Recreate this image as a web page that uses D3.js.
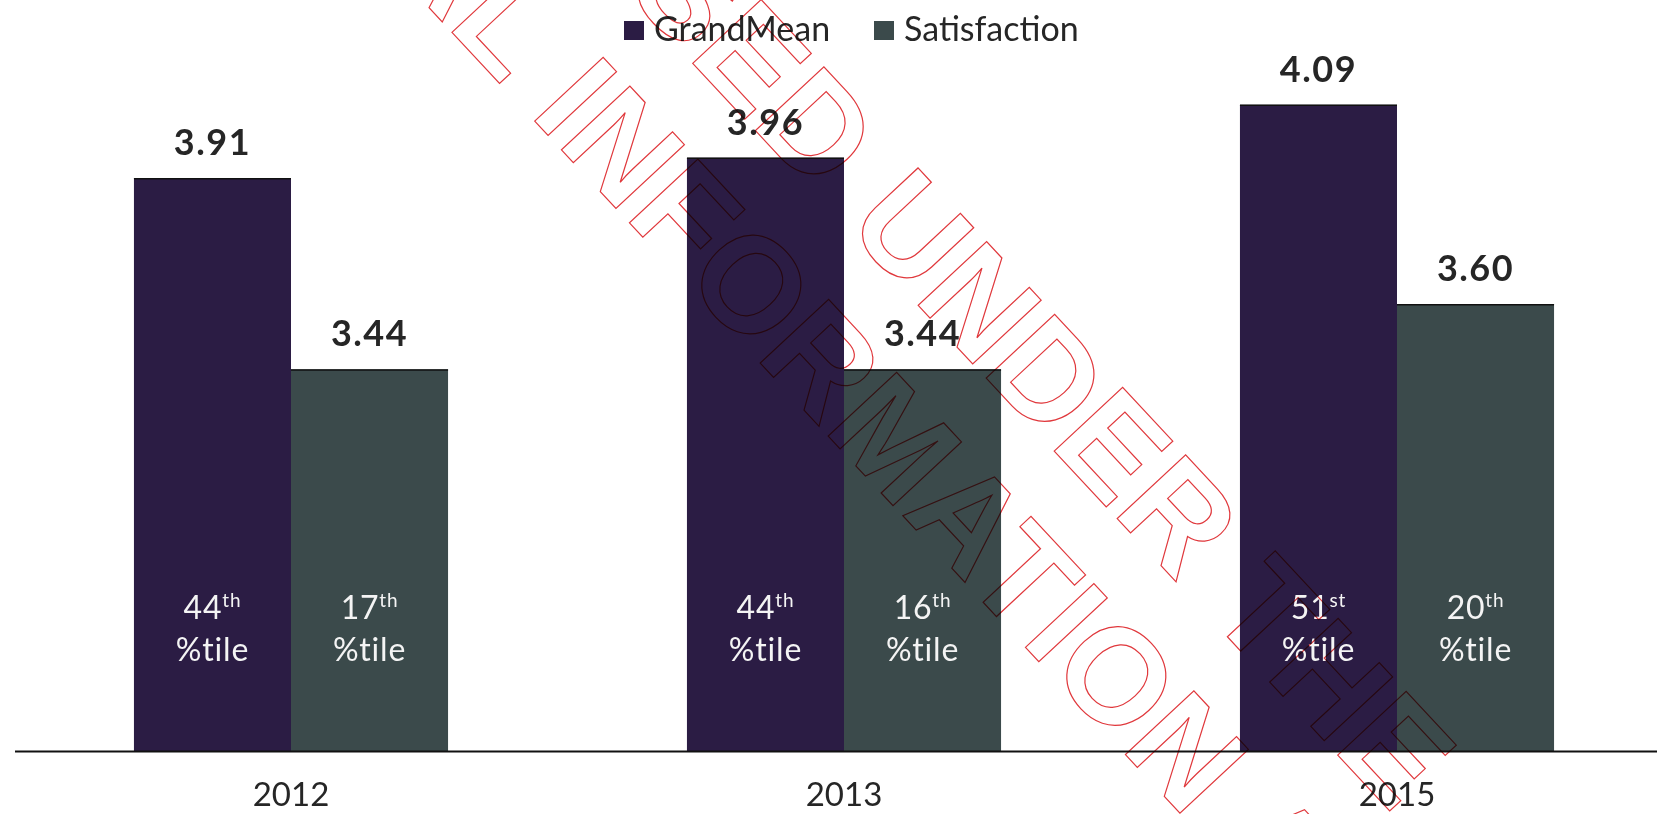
<!DOCTYPE html>
<html>
<head>
<meta charset="utf-8">
<script src="https://cdn.jsdelivr.net/npm/d3@7/dist/d3.min.js"></script>
<style>
  html, body { margin: 0; padding: 0; background: #ffffff; }
  svg { display: block; }
</style>
</head>
<body>
<svg id="chart" width="1657" height="814"></svg>
<script>
// Survey results by year
const years = ["2012", "2013", "2015"];
const seriesNames = ["GrandMean", "Satisfaction"];
const grandMean = [3.91, 3.96, 4.09];
const satisfaction = [3.44, 3.44, 3.60];
const grandMeanRank = ["44", "44", "51"];
const grandMeanSuffix = ["th", "th", "st"];
const satisfactionRank = ["17", "16", "20"];
const satisfactionSuffix = ["th", "th", "th"];
const seriesColors = ["#2b1c44", "#3b4a4b"];

const stampLines = ["RELEASED UNDER THE", "OFFICIAL INFORMATION ACT"];

const baseY = 752;
const svg = d3.select("#chart");

const rows = years.map((yr, i) => ({
  year: yr,
  bars: [
    { key: seriesNames[0], value: grandMean[i], rank: grandMeanRank[i], suffix: grandMeanSuffix[i] },
    { key: seriesNames[1], value: satisfaction[i], rank: satisfactionRank[i], suffix: satisfactionSuffix[i] }
  ]
}));

const x0 = d3.scaleBand().domain(years).range([14.5, 1673.5])
  .paddingInner(0.432).paddingOuter(0.216);
const x1 = d3.scaleBand().domain(seriesNames).range([0, x0.bandwidth()]);
const y = d3.scaleLinear().domain([2.5, 4.0]).range([baseY, baseY - 1.5 * 407]);
const color = d3.scaleOrdinal().domain(seriesNames).range(seriesColors);

const groups = svg.append("g").selectAll("g.year")
  .data(rows).join("g")
  .attr("class", "year")
  .attr("transform", d => `translate(${x0(d.year)},0)`);

// bars
groups.selectAll("rect.bar")
  .data(d => d.bars).join("rect")
  .attr("class", "bar")
  .attr("x", d => x1(d.key))
  .attr("width", x1.bandwidth())
  .attr("y", d => y(d.value))
  .attr("height", d => y.range()[0] - y(d.value))
  .attr("fill", d => color(d.key));

// dark top edge of each bar
groups.selectAll("line.edge")
  .data(d => d.bars).join("line")
  .attr("class", "edge")
  .attr("x1", d => x1(d.key))
  .attr("x2", d => x1(d.key) + x1.bandwidth())
  .attr("y1", d => y(d.value) + 0.5)
  .attr("y2", d => y(d.value) + 0.5)
  .attr("stroke", "#111")
  .attr("stroke-width", 1.5);

// value labels
groups.selectAll("text.value")
  .data(d => d.bars).join("text")
  .attr("class", "value")
  .attr("x", d => x1(d.key) + x1.bandwidth() / 2)
  .attr("y", d => y(d.value) - 23)
  .attr("text-anchor", "middle")
  .attr("font-family", "Lato, 'Open Sans', sans-serif")
  .attr("font-weight", 700)
  .attr("font-size", 36)
  .attr("letter-spacing", 1.5)
  .attr("fill", "#262626")
  .text(d => d.value.toFixed(2));

// percentile labels inside the bars
const pct = groups.selectAll("text.pct")
  .data(d => d.bars).join("text")
  .attr("class", "pct")
  .attr("text-anchor", "middle")
  .attr("font-family", "Lato, 'Open Sans', sans-serif")
  .attr("font-size", 32)
  .attr("letter-spacing", 0.8)
  .attr("fill", "#f4f4f4");
pct.each(function (d) {
  const t = d3.select(this);
  const cx = x1(d.key) + x1.bandwidth() / 2;
  const l1 = t.append("tspan").attr("x", cx).attr("y", baseY - 133);
  l1.append("tspan").text(d.rank);
  l1.append("tspan").attr("font-size", 19).attr("dy", -12).text(d.suffix);
  t.append("tspan").attr("x", cx).attr("y", baseY - 91).text("%tile");
});

// category axis
const axis = svg.append("g")
  .attr("transform", `translate(0,${baseY - 1})`)
  .call(d3.axisBottom(x0).tickSize(0).tickPadding(0));
axis.select(".domain").attr("stroke", "#111").attr("stroke-width", 2);
axis.selectAll(".tick text")
  .attr("dy", null)
  .attr("y", 55)
  .attr("font-family", "Lato, 'Open Sans', sans-serif")
  .attr("font-size", 33)
  .attr("fill", "#262626");

// legend
const legend = svg.append("g").selectAll("g")
  .data(seriesNames).join("g")
  .attr("transform", (d, i) => `translate(${[624, 874][i]},0)`);
legend.append("rect")
  .attr("x", 0).attr("y", 21).attr("width", 20).attr("height", 19)
  .attr("fill", d => color(d));
legend.append("text")
  .attr("x", 30).attr("y", 41)
  .attr("font-family", "Lato, 'Open Sans', sans-serif")
  .attr("font-size", 34)
  .attr("fill", "#262626")
  .text(d => d);

// release stamp
const stamp = svg.append("g")
  .attr("transform", "translate(828,251) rotate(47)")
  .style("mix-blend-mode", "multiply");
stamp.selectAll("text")
  .data(stampLines).join("text")
  .attr("x", 0)
  .attr("y", (d, i) => [-29, 126][i])
  .attr("text-anchor", "middle")
  .attr("font-family", "'Liberation Sans', Arial, sans-serif")
  .attr("font-weight", 700)
  .attr("font-size", 136)
  .attr("letter-spacing", 1.5)
  .attr("fill", "none")
  .attr("stroke", "#e0383c")
  .attr("stroke-width", 1.2)
  .text(d => d);
</script>
</body>
</html>
